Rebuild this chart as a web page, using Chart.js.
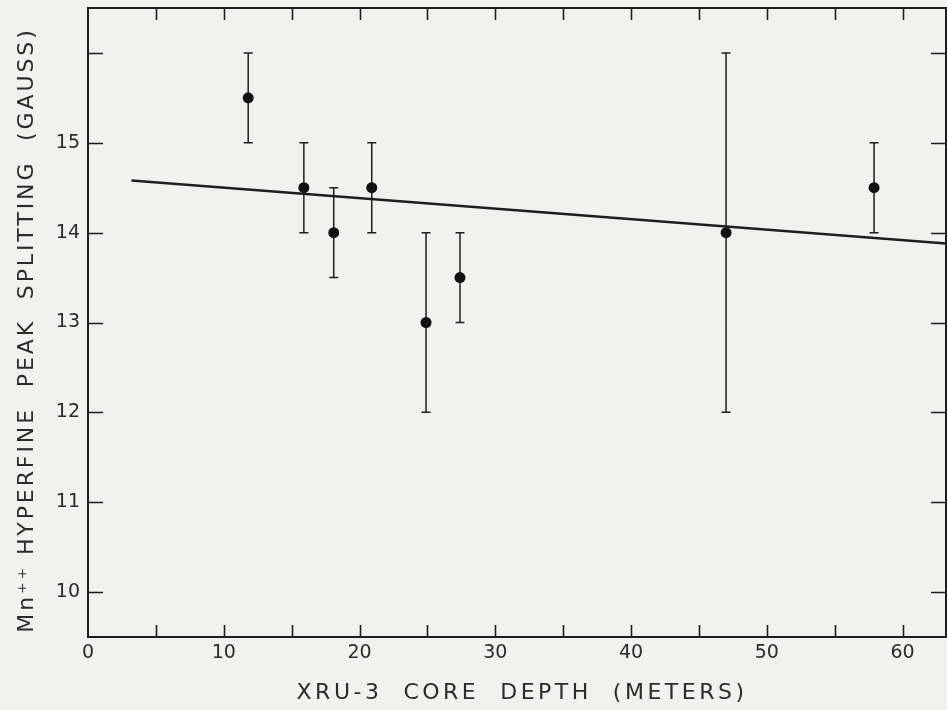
<!DOCTYPE html>
<html>
<head>
<meta charset="utf-8">
<script src="https://cdn.jsdelivr.net/npm/chart.js@4"></script>
<style>
  html, body { margin: 0; padding: 0; background: #f1f1f0; }
  #wrap { width: 947px; height: 710px; }
</style>
</head>
<body>
<div id="wrap"><canvas id="chart" width="947" height="710"></canvas></div>
<script>
// --- Data ---
const depth = [11.8, 15.9, 18.1, 20.9, 24.9, 27.4, 47.0, 57.9];
const splitting = [15.5, 14.5, 14.0, 14.5, 13.0, 13.5, 14.0, 14.5];
const errLow = [15.0, 14.0, 13.5, 14.0, 12.0, 13.0, 12.0, 14.0];
const errHigh = [16.0, 15.0, 14.5, 15.0, 14.0, 14.0, 16.0, 15.0];
const fitX = [3.2, 63.2];
const fitY = [14.58, 13.88];
const xTicks = [0, 5, 10, 15, 20, 25, 30, 35, 40, 45, 50, 55, 60];
const xTickLabels = [0, 10, 20, 30, 40, 50, 60];
const yTicks = [10, 11, 12, 13, 14, 15, 16];
const yTickLabels = [10, 11, 12, 13, 14, 15];

const ink = '#1e1e1e';
const textInk = '#2b2b2b';

// frame, inner ticks and error bars
const framePlugin = {
    id: 'frame',
    beforeDatasetsDraw(chart) {
        const { ctx, chartArea: a, scales: { x, y } } = chart;
        ctx.save();
        ctx.strokeStyle = ink;
        ctx.lineWidth = 2;
        ctx.strokeRect(a.left, a.top, a.right - a.left, a.bottom - a.top);

        ctx.lineWidth = 1.6;
        ctx.beginPath();
        x.ticks.forEach(t => {
            const px = Math.round(x.getPixelForValue(t.value)) + 0.5;
            if (px <= a.left + 2 || px >= a.right - 2) return;
            ctx.moveTo(px, a.bottom); ctx.lineTo(px, a.bottom - 12);
            ctx.moveTo(px, a.top); ctx.lineTo(px, a.top + 12);
        });
        y.ticks.forEach(t => {
            const py = Math.round(y.getPixelForValue(t.value)) + 0.5;
            if (py <= a.top + 2 || py >= a.bottom - 2) return;
            ctx.moveTo(a.left, py); ctx.lineTo(a.left + 15, py);
            ctx.moveTo(a.right, py); ctx.lineTo(a.right - 15, py);
        });
        ctx.stroke();

        // error bars
        ctx.lineWidth = 1.5;
        ctx.beginPath();
        depth.forEach((d, i) => {
            const px = x.getPixelForValue(d);
            const top = y.getPixelForValue(errHigh[i]);
            const bot = y.getPixelForValue(errLow[i]);
            ctx.moveTo(px, top); ctx.lineTo(px, bot);
            ctx.moveTo(px - 4.5, top); ctx.lineTo(px + 4.5, top);
            ctx.moveTo(px - 4.5, bot); ctx.lineTo(px + 4.5, bot);
        });
        ctx.stroke();
        ctx.restore();
    },
    afterDraw(chart) {
        const { ctx, chartArea: a } = chart;
        ctx.save();
        ctx.fillStyle = textInk;
        ctx.font = '22px "DejaVu Sans"';
        ctx.letterSpacing = '3.5px';
        ctx.textAlign = 'center';
        ctx.textBaseline = 'middle';
        ctx.fillText('XRU-3  CORE  DEPTH  (METERS)', 522, 693);

        ctx.letterSpacing = '2.9px';
        ctx.translate(27, 330);
        ctx.rotate(-Math.PI / 2);
        ctx.fillText('Mn\u207A\u207A HYPERFINE  PEAK  SPLITTING  (GAUSS)', 0, 0);
        ctx.restore();
    }
};

const tickFont = { family: 'DejaVu Sans', size: 19 };

new Chart(document.getElementById('chart'), {
    type: 'scatter',
    data: {
        datasets: [
            {
                type: 'line',
                data: fitX.map((v, i) => ({ x: v, y: fitY[i] })),
                borderColor: ink,
                borderWidth: 2.5,
                pointRadius: 0,
                fill: false
            },
            {
                data: depth.map((v, i) => ({ x: v, y: splitting[i] })),
                backgroundColor: '#111',
                borderWidth: 0,
                pointRadius: 5.5
            }
        ]
    },
    options: {
        responsive: false,
        animation: false,
        layout: { autoPadding: false, padding: { top: 8, right: 1, left: 0, bottom: 0 } },
        plugins: {
            legend: { display: false },
            tooltip: { enabled: false }
        },
        scales: {
            x: {
                type: 'linear',
                min: 0,
                max: 63.2,
                grid: { display: false, drawTicks: false },
                border: { display: false },
                ticks: {
                    autoSkip: false,
                    maxRotation: 0,
                    padding: 5,
                    color: textInk,
                    font: tickFont,
                    callback: v => xTickLabels.includes(v) ? String(v) : ''
                },
                afterBuildTicks: s => { s.ticks = xTicks.map(v => ({ value: v })); },
                afterFit: s => { s.height = 73; s.paddingLeft = 0; s.paddingRight = 0; }
            },
            y: {
                min: 9.5,
                max: 16.5,
                grid: { display: false, drawTicks: false },
                border: { display: false },
                ticks: {
                    autoSkip: false,
                    padding: 8,
                    color: textInk,
                    font: tickFont,
                    callback: v => yTickLabels.includes(v) ? String(v) : ''
                },
                afterBuildTicks: s => { s.ticks = yTicks.map(v => ({ value: v })); },
                afterFit: s => { s.width = 88; s.paddingTop = 0; s.paddingBottom = 0; }
            }
        }
    },
    plugins: [framePlugin]
});
</script>
</body>
</html>
